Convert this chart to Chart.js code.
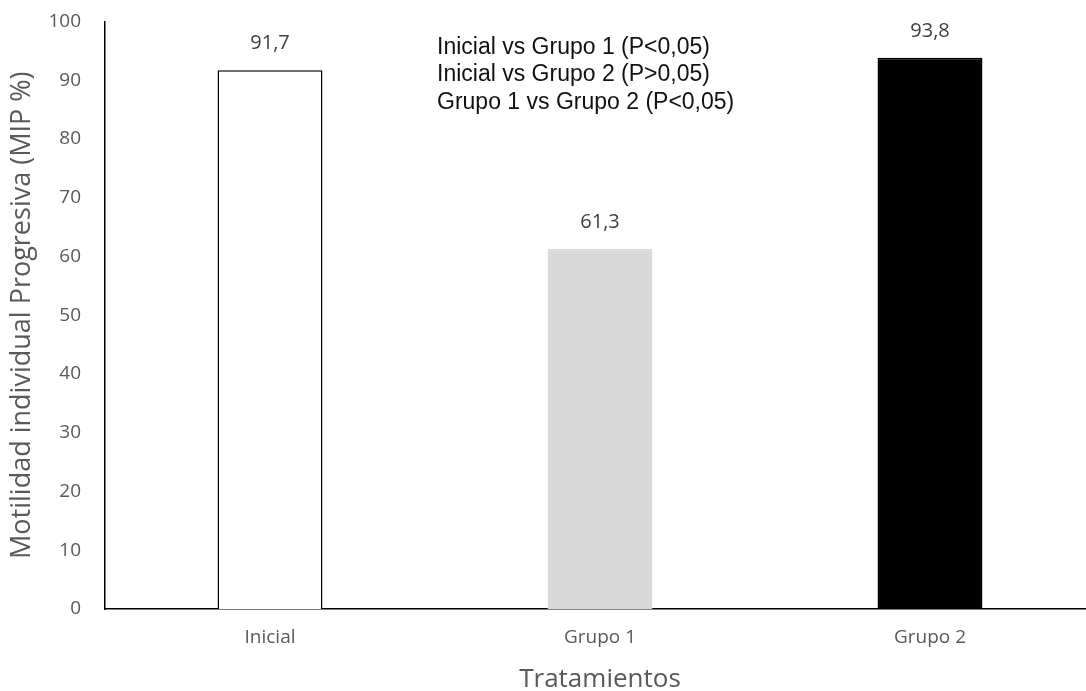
<!DOCTYPE html>
<html>
<head>
<meta charset="utf-8">
<script src="https://cdn.jsdelivr.net/npm/chart.js@4.4.1/dist/chart.umd.min.js"></script>
<style>
  html, body { margin: 0; padding: 0; background: #fff; overflow: hidden; }
  #wrap { width: 1100px; height: 705px; margin-top: -14px; }
</style>
</head>
<body>
<div id="wrap"><canvas id="chart" width="1100" height="705"></canvas></div>
<script>
// --- data ---
const categories = ['Inicial', 'Grupo 1', 'Grupo 2'];
const values = [91.7, 61.3, 93.8];
const valueLabels = ['91,7', '61,3', '93,8'];
const barColors = ['#ffffff', '#d9d9d9', '#000000'];
const barBorders = ['#000000', '#d9d9d9', '#000000'];
const notes = [
    'Inicial vs Grupo 1 (P<0,05)',
    'Inicial vs Grupo 2 (P>0,05)',
    'Grupo 1 vs Grupo 2 (P<0,05)'
];

const TICK_COLOR = '#595959';
const TICK_FONT = 'Open Sans';

// value labels above bars + the comparison note
const labelsPlugin = {
    id: 'labels',
    afterDatasetsDraw(chart) {
        const ctx = chart.ctx;
        const meta = chart.getDatasetMeta(0);
        ctx.save();
        ctx.fillStyle = '#404040';
        ctx.font = '20px "' + TICK_FONT + '"';
        ctx.textAlign = 'center';
        ctx.textBaseline = 'middle';
        meta.data.forEach((bar, i) => {
            ctx.fillText(valueLabels[i], bar.x, bar.y - 27);
        });

        const area = chart.chartArea;
        ctx.fillStyle = '#111';
        ctx.font = '23px "Liberation Sans"';
        ctx.textAlign = 'left';
        notes.forEach((t, i) => {
            ctx.fillText(t, area.left + 332, area.top + 26 + i * 27.5);
        });
        ctx.restore();
    }
};

new Chart(document.getElementById('chart'), {
    type: 'bar',
    data: {
        labels: categories,
        datasets: [{
            data: values,
            backgroundColor: barColors,
            borderColor: barBorders,
            borderWidth: 1.5,
            categoryPercentage: 1,
            barPercentage: 0.318
        }]
    },
    options: {
        responsive: false,
        animation: false,
        layout: { padding: { top: 8, right: 5, left: 0, bottom: 0 } },
        plugins: {
            legend: { display: false },
            tooltip: { enabled: false }
        },
        scales: {
            x: {
                afterFit: (s) => { s.height = 82; },
                grid: { display: false, drawTicks: false },
                border: { display: true, color: '#000', width: 1.5 },
                ticks: { color: TICK_COLOR, font: { family: TICK_FONT, size: 19 }, padding: 17 },
                title: {
                    display: true,
                    text: 'Tratamientos',
                    color: TICK_COLOR,
                    font: { family: TICK_FONT, size: 26 },
                    padding: { top: 0, bottom: -4 }
                }
            },
            y: {
                min: 0,
                max: 100,
                afterFit: (s) => { s.width = 105; },
                grid: { display: false, drawTicks: false },
                border: { display: true, color: '#000', width: 1.5 },
                ticks: { stepSize: 10, color: TICK_COLOR, font: { family: TICK_FONT, size: 19 }, padding: 24 },
                title: {
                    display: true,
                    text: 'Motilidad individual Progresiva (MIP %)',
                    color: TICK_COLOR,
                    font: { family: TICK_FONT, size: 27 },
                    padding: { top: 6, bottom: 0 }
                }
            }
        }
    },
    plugins: [labelsPlugin]
});
</script>
</body>
</html>
